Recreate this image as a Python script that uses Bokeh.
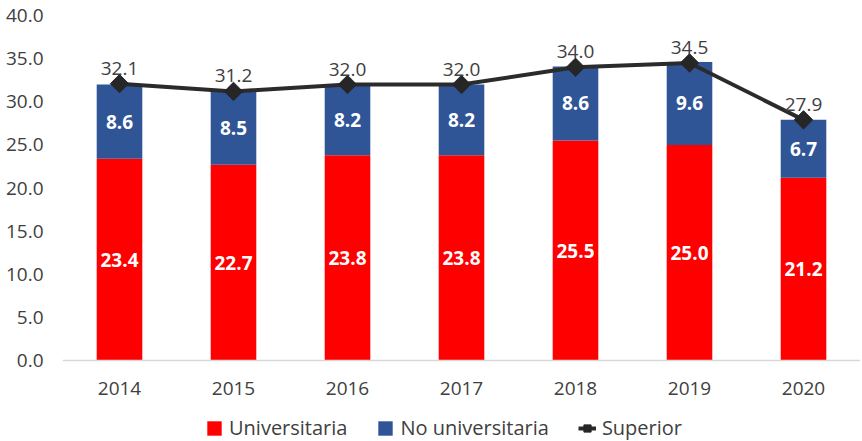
from bokeh.plotting import figure
from bokeh.models import (ColumnDataSource, Range1d, FactorRange, LabelSet, Legend,
                          LegendItem, FixedTicker, NumeralTickFormatter)
from bokeh.embed import file_html
from bokeh.resources import INLINE
from bokeh.core.properties import value

years = ["2014", "2015", "2016", "2017", "2018", "2019", "2020"]
universitaria = [23.4, 22.7, 23.8, 23.8, 25.5, 25.0, 21.2]
no_universitaria = [8.6, 8.5, 8.2, 8.2, 8.6, 9.6, 6.7]
superior = [32.1, 31.2, 32.0, 32.0, 34.0, 34.5, 27.9]
y_ticks = [0, 5, 10, 15, 20, 25, 30, 35, 40]

FONT = "Open Sans"
RED = "#FF0000"
BLUE = "#2F5597"
LINE = "#2B2B2B"
TXT = "#404040"

tot = [u + n for u, n in zip(universitaria, no_universitaria)]
src = ColumnDataSource(dict(
    year=years,
    u=universitaria,
    n=no_universitaria,
    tot=tot,
    sup=superior,
    umid=[u / 2 for u in universitaria],
    nmid=[u + n / 2 for u, n in zip(universitaria, no_universitaria)],
    ulab=[f"{v:.1f}" for v in universitaria],
    nlab=[f"{v:.1f}" for v in no_universitaria],
    slab=[f"{v:.1f}" for v in superior],
))

W, H = 862, 441
TOP, ZERO_Y = 15, 360           # pixel rows of 40.0 and 0.0
ppu = (ZERO_Y - TOP) / 40.0     # pixels per unit
y_min = -(H - ZERO_Y) / ppu     # frame extends to bottom edge; room for labels/legend

p = figure(x_range=FactorRange(factors=years), y_range=Range1d(y_min, 40),
           width=W, height=H, output_backend="svg", toolbar_location=None,
           min_border_left=62, min_border_right=2, min_border_top=TOP,
           min_border_bottom=0)
p.outline_line_color = None
p.xgrid.visible = False
p.ygrid.visible = False
p.background_fill_color = "white"

r1 = p.vbar(x="year", top="u", bottom=0, width=0.4, fill_color=RED, line_color=None, source=src)
r2 = p.vbar(x="year", top="tot", bottom="u", width=0.4, fill_color=BLUE, line_color=None, source=src)
r3 = p.line(x="year", y="sup", line_color=LINE, line_width=4, source=src)
r4 = p.scatter(x="year", y="sup", marker="square", size=13, angle=0.785398,
               fill_color="#262626", line_color="#262626", source=src)

for col, lab in (("umid", "ulab"), ("nmid", "nlab")):
    p.add_layout(LabelSet(x="year", y=col, text=lab, source=src, text_align="center",
                          text_baseline="middle", text_color="white", text_font_style="bold",
                          text_font_size="19px", text_font=value(FONT)))
p.add_layout(LabelSet(x="year", y="sup", text="slab", source=src, text_align="center",
                      text_baseline="bottom", y_offset=9, text_color=TXT,
                      text_font_size="19px", text_font=value(FONT)))

p.yaxis.ticker = FixedTicker(ticks=y_ticks)
p.yaxis.formatter = NumeralTickFormatter(format="0.0")
p.yaxis.axis_line_color = None
p.yaxis.major_tick_line_color = None
p.yaxis.minor_tick_line_color = None
p.yaxis.major_label_standoff = 13
p.yaxis.major_label_text_font = FONT
p.yaxis.major_label_text_font_size = "19px"
p.yaxis.major_label_text_color = TXT

p.xaxis.fixed_location = 0
p.xaxis.axis_line_color = "#D9D9D9"
p.xaxis.axis_line_width = 1.5
p.xaxis.major_tick_line_color = None
p.xaxis.minor_tick_line_color = None
p.xaxis.major_label_standoff = 15
p.xaxis.major_label_text_font = FONT
p.xaxis.major_label_text_font_size = "19px"
p.xaxis.major_label_text_color = TXT

legend = Legend(items=[
    LegendItem(label="Universitaria", renderers=[r1]),
    LegendItem(label="No universitaria", renderers=[r2]),
    LegendItem(label="Superior", renderers=[r3, r4]),
], orientation="horizontal", location=(143, 0))
legend.border_line_color = None
legend.background_fill_alpha = 0
legend.label_text_font = FONT
legend.label_text_font_size = "20px"
legend.label_text_color = TXT
legend.glyph_width = 18
legend.glyph_height = 18
legend.spacing = 29
legend.label_standoff = 6
legend.padding = 0
legend.margin = 0
p.add_layout(legend, "center")

open("out.html", "w").write(file_html(p, INLINE))
